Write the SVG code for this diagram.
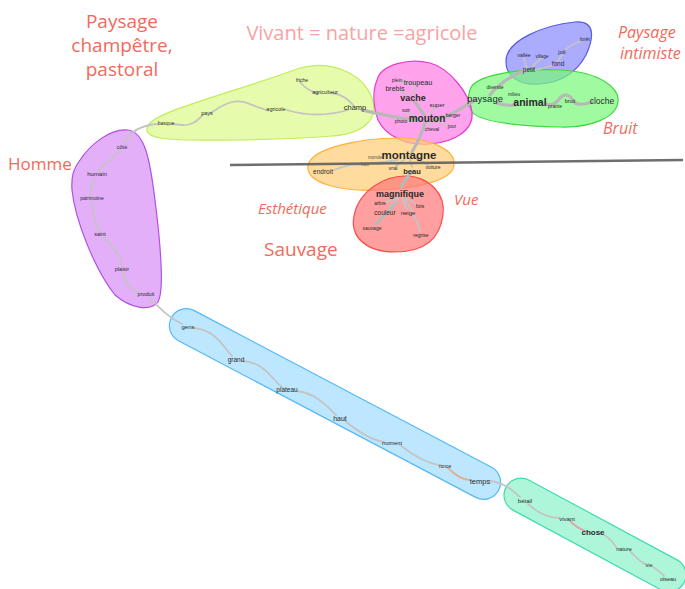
<svg xmlns="http://www.w3.org/2000/svg" width="685" height="589" viewBox="0 0 685 589">
<style>
.blob{stroke-width:1.2;fill-opacity:0.72}
.c{fill:none;stroke:#c4c4c4;stroke-width:1.8;stroke-linecap:round}
.t{fill:none;stroke:#b8b8b8;stroke-width:3.2;stroke-linecap:round}
text.w{font-family:"Liberation Sans",Arial,sans-serif;fill:#2a2a2a;text-anchor:middle}
text.h{font-family:"Open Sans","Liberation Sans",sans-serif;fill:#f26a5a}
text.i{font-style:italic}
</style>
<rect width="685" height="589" fill="#ffffff"/>
<g id="clusters">
<g id="cl-champetre"><path class="blob" fill="#dcfa8a" stroke="#c2ec5c" d="M148,126 C152,112 235,92 300,68 C330,60 362,72 372,98 C380,120 362,134 332,136 C285,140 185,142 160,138 C148,136 145,131 148,126 Z"/></g>
<g id="cl-intimiste"><path class="blob" fill="#8c8cff" stroke="#5a5ae8" d="M506,62 C505,40 545,25 575,22 C597,20 593,40 586,55 C578,70 565,82 540,84 C518,86 506,75 506,62 Z"/></g>
<g id="cl-bruit"><path class="blob" fill="#7cf87c" stroke="#3ed83e" d="M470,90 C473,75 520,68 560,70 C600,72 620,88 618,102 C616,118 590,128 560,127 C520,126 480,122 472,112 C467,105 468,96 470,90 Z"/></g>
<g id="cl-vivant"><path class="blob" fill="#ff80e6" stroke="#e03fcc" d="M377,80 C381,64 410,58 430,63 C450,68 470,95 472,112 C474,130 455,142 430,144 C405,146 385,135 378,120 C373,105 373,90 377,80 Z"/></g>
<g id="cl-esthetique"><path class="blob" fill="#ffcf78" stroke="#ffb040" d="M308,165 C312,148 360,138 400,138 C430,138 456,150 454,165 C453,180 420,188 380,190 C340,192 305,183 308,165 Z"/></g>
<g id="cl-vue"><path class="blob" fill="#ff7a7a" stroke="#ff4a4a" d="M354,216 C359,190 385,176 405,176 C430,176 446,195 443,215 C440,238 425,252 395,252 C365,252 350,236 354,216 Z"/></g>
<g id="cl-homme"><path class="blob" fill="#d890f6" stroke="#b050e0" d="M80,160 C90,145 110,128 128,130 C145,132 150,160 155,200 C160,240 165,290 158,302 C150,312 130,308 115,295 C95,270 75,220 72,190 C71,175 74,168 80,160 Z"/></g>
<g id="cl-temps"><rect class="blob" fill="#a4dcff" stroke="#55b8f8" x="150" y="387" width="370" height="34" rx="17" transform="rotate(27.8 335 404)"/></g>
<g id="cl-nature"><rect class="blob" fill="#8ff2cc" stroke="#42dcae" x="494" y="518" width="202" height="34" rx="17" transform="rotate(28.3 595 535)"/></g>
</g>
<g id="connectors">
<path class="c" d="M300,82 C305,88 310,92 318,93"/>
<path class="c" d="M332,93 C345,95 350,102 354,106"/>
<path class="t" d="M362,110 C380,114 400,119 418,120"/>
<path class="c" d="M348,110 C320,118 300,114 287,110"/>
<path class="c" d="M266,110 C252,106 244,99 232,102 C220,105 214,112 210,113"/>
<path class="c" d="M203,115 C198,120 192,126 182,125 L172,124"/>
<path class="c" d="M158,124 C140,125 130,132 124,143"/>
<path class="c" d="M120,150 C112,160 102,166 98,171"/>
<path class="c" d="M96,178 C90,186 90,192 92,196"/>
<path class="c" d="M92,201 C92,215 96,225 100,231"/>
<path class="c" d="M103,237 C116,250 122,258 122,266"/>
<path class="c" d="M123,272 C125,285 134,292 140,293"/>
<path class="c" d="M150,297 C160,310 170,318 182,324"/>
<path class="c" d="M194,328 C215,330 222,345 232,356"/>
<path class="c" d="M242,361 C265,362 272,380 282,387"/>
<path class="c" d="M297,391 C315,393 326,405 336,415"/>
<path class="c" d="M344,420 C356,430 370,440 384,442"/>
<path class="c" d="M400,445 C412,455 430,465 441,465"/>
<path class="c" style="stroke:#e0b090" d="M448,468 C455,475 462,480 470,480"/>
<path class="c" d="M490,481 C505,483 512,490 520,497"/>
<path class="c" d="M528,504 C540,515 552,518 560,518"/>
<path class="c" style="stroke:#d8a8a8" d="M570,521 C576,527 582,530 586,531"/>
<path class="c" d="M601,533 C612,538 615,547 617,548"/>
<path class="c" d="M630,551 C637,558 641,563 646,564"/>
<path class="c" d="M653,567 C659,571 663,574 664,576"/>
<path class="t" d="M425,116 C420,110 418,105 414,101"/>
<path class="c" d="M413,95 L416,86"/>
<path class="c" d="M408,95 C404,92 400,91 397,90"/>
<path class="c" d="M413,84 L400,81"/>
<path class="c" d="M430,115 C432,110 434,108 436,107"/>
<path class="c" d="M421,119 C415,117 410,114 407,112"/>
<path class="c" d="M418,121 L408,121"/>
<path class="t" d="M434,119 C440,117 446,116 450,116"/>
<path class="c" d="M434,121 C442,124 446,125 449,125"/>
<path class="c" d="M428,122 C430,125 431,127 432,128"/>
<path class="t" d="M425,122 C422,135 416,145 412,152"/>
<path class="t" d="M432,120 C450,118 465,105 476,100"/>
<path class="t" d="M490,95 C495,88 505,80 513,76 C519,72 524,71 527,71"/>
<path class="c" d="M527,68 C525,63 524,60 524,58"/>
<path class="c" d="M531,68 C535,63 540,60 542,58"/>
<path class="c" d="M535,70 C545,68 551,66 554,65"/>
<path class="c" d="M558,61 C560,58 561,56 562,55"/>
<path class="c" d="M565,50 C571,45 578,42 582,41"/>
<path class="t" d="M496,103 C503,105 508,106 515,105"/>
<path class="t" d="M545,104 C550,106 556,104 561,97 C566,93 570,95 574,102 C578,106 586,104 592,102"/>
<path class="c" d="M410,160 C411,164 412,166 412,167"/>
<path class="c" d="M404,160 C400,163 397,165 396,166"/>
<path class="c" d="M416,158 C422,162 426,164 428,165"/>
<path class="c" d="M398,160 C385,162 376,163 370,163"/>
<path class="c" d="M360,165 C350,164 342,167 334,170"/>
<path class="t" d="M412,172 C406,178 403,183 401,187"/>
<path class="c" d="M398,197 C393,200 389,201 386,202"/>
<path class="c" d="M398,199 C393,204 390,207 389,209"/>
<path class="t" d="M396,203 C388,212 380,220 376,224"/>
<path class="c" d="M404,198 C410,200 414,202 416,204"/>
<path class="c" d="M402,198 C404,204 406,207 407,209"/>
<path class="c" d="M405,200 C413,210 418,224 420,231"/>
</g>
<g id="n-friche"><text class="w" x="302" y="82" font-size="5">friche</text></g>
<g id="n-agriculteur"><text class="w" x="325" y="94" font-size="5.5">agriculteur</text></g>
<g id="n-champ"><text class="w" x="355" y="110" font-size="7.5">champ</text></g>
<g id="n-agricole"><text class="w" x="276" y="111" font-size="5.5">agricole</text></g>
<g id="n-pays"><text class="w" x="207" y="115" font-size="5.5">pays</text></g>
<g id="n-basque"><text class="w" x="166" y="125" font-size="5">basque</text></g>
<g id="n-plein"><text class="w" x="397" y="82" font-size="5">plein</text></g>
<g id="n-troupeau"><text class="w" x="418" y="85" font-size="7.2">troupeau</text></g>
<g id="n-brebis"><text class="w" x="395" y="91" font-size="7">brebis</text></g>
<g id="n-vache"><text class="w" x="413" y="101" font-size="9" font-weight="bold">vache</text></g>
<g id="n-super"><text class="w" x="437" y="107" font-size="6">super</text></g>
<g id="n-soir"><text class="w" x="406" y="112" font-size="5">soir</text></g>
<g id="n-mouton"><text class="w" x="427" y="122" font-size="10" font-weight="bold">mouton</text></g>
<g id="n-berger"><text class="w" x="453" y="117" font-size="5">berger</text></g>
<g id="n-photo"><text class="w" x="401" y="123" font-size="5">photo</text></g>
<g id="n-jour"><text class="w" x="452" y="128" font-size="5">jour</text></g>
<g id="n-cheval"><text class="w" x="432" y="131" font-size="5">cheval</text></g>
<g id="n-foret"><text class="w" x="585" y="41" font-size="5">forêt</text></g>
<g id="n-joli"><text class="w" x="562" y="54" font-size="6">joli</text></g>
<g id="n-vallee"><text class="w" x="524" y="57" font-size="5">vallée</text></g>
<g id="n-village"><text class="w" x="542" y="58" font-size="4.6">village</text></g>
<g id="n-fond"><text class="w" x="558" y="66" font-size="6.5">fond</text></g>
<g id="n-petit"><text class="w" x="529" y="72" font-size="6.5">petit</text></g>
<g id="n-diversite"><text class="w" x="495" y="89" font-size="4.6">diversité</text></g>
<g id="n-milieu"><text class="w" x="514" y="96" font-size="4.6">milieu</text></g>
<g id="n-paysage"><text class="w" x="485" y="102" font-size="9.5">paysage</text></g>
<g id="n-animal"><text class="w" x="530" y="106" font-size="10.5" font-weight="bold">animal</text></g>
<g id="n-prairie"><text class="w" x="555" y="108" font-size="5">prairie</text></g>
<g id="n-bruit"><text class="w" x="570" y="103" font-size="5.5">bruit</text></g>
<g id="n-cloche"><text class="w" x="602" y="104" font-size="8.5">cloche</text></g>
<g id="n-monde"><text class="w" x="375" y="159" font-size="4.6" style="fill:#555">monde</text></g>
<g id="n-montagne"><text class="w" x="409" y="159" font-size="11.5" font-weight="bold">montagne</text></g>
<g id="n-bati"><text class="w" x="365" y="166" font-size="5" style="fill:#666">bâti</text></g>
<g id="n-endroit"><text class="w" x="323" y="174" font-size="6.5">endroit</text></g>
<g id="n-vrai"><text class="w" x="393" y="170" font-size="5.5">vrai</text></g>
<g id="n-beau"><text class="w" x="412" y="174" font-size="7.5" font-weight="bold">beau</text></g>
<g id="n-voiture"><text class="w" x="433" y="169" font-size="5">voiture</text></g>
<g id="n-magnifique"><text class="w" x="400" y="197" font-size="9" font-weight="bold">magnifique</text></g>
<g id="n-arbre"><text class="w" x="380" y="205" font-size="5">arbre</text></g>
<g id="n-fois"><text class="w" x="420" y="208" font-size="5.5">fois</text></g>
<g id="n-couleur"><text class="w" x="385" y="215" font-size="6.5">couleur</text></g>
<g id="n-neige"><text class="w" x="408" y="215" font-size="6">neige</text></g>
<g id="n-sauvage"><text class="w" x="372" y="230" font-size="5">sauvage</text></g>
<g id="n-regrise"><text class="w" x="421" y="237" font-size="5">regrise</text></g>
<g id="n-cote"><text class="w" x="122" y="149" font-size="5.5">côté</text></g>
<g id="n-humain"><text class="w" x="97" y="176" font-size="6">humain</text></g>
<g id="n-patrimoine"><text class="w" x="92" y="200" font-size="5">patrimoine</text></g>
<g id="n-saint"><text class="w" x="100" y="236" font-size="5.5">saint</text></g>
<g id="n-plaisir"><text class="w" x="122" y="271" font-size="5.5">plaisir</text></g>
<g id="n-produit"><text class="w" x="146" y="296" font-size="5.5">produit</text></g>
<g id="n-gens"><text class="w" x="188" y="329" font-size="6">gens</text></g>
<g id="n-grand"><text class="w" x="236" y="362" font-size="6.5">grand</text></g>
<g id="n-plateau"><text class="w" x="287" y="392" font-size="6.5">plateau</text></g>
<g id="n-haut"><text class="w" x="340" y="421" font-size="7">haut</text></g>
<g id="n-moment"><text class="w" x="392" y="445" font-size="5.5">moment</text></g>
<g id="n-ronce"><text class="w" x="445" y="468" font-size="5">ronce</text></g>
<g id="n-temps"><text class="w" x="480" y="484" font-size="7.5">temps</text></g>
<g id="n-betail"><text class="w" x="525" y="503" font-size="6">bétail</text></g>
<g id="n-vivant"><text class="w" x="567" y="521" font-size="6">vivant</text></g>
<g id="n-chose"><text class="w" x="593" y="535" font-size="8" font-weight="bold">chose</text></g>
<g id="n-nature"><text class="w" x="624" y="551" font-size="5.5">nature</text></g>
<g id="n-vie"><text class="w" x="649" y="567" font-size="5.5">vie</text></g>
<g id="n-oiseau"><text class="w" x="668" y="581" font-size="5.5">oiseau</text></g>
<line x1="230" y1="165" x2="683" y2="160" stroke="#5e5e5e" stroke-width="2.5" stroke-opacity="0.9"/>
<g id="labels">
<text class="h" x="122" y="28" font-size="19" text-anchor="middle">Paysage</text>
<text class="h" x="122" y="52" font-size="19" text-anchor="middle">champêtre,</text>
<text class="h" x="122" y="76" font-size="19" text-anchor="middle">pastoral</text>
<text class="h" x="362" y="40" font-size="20" text-anchor="middle" style="fill:#f9a3a3">Vivant = nature =agricole</text>
<text class="h i" x="618" y="38" font-size="16">Paysage</text>
<text class="h i" x="620" y="59" font-size="16">intimiste</text>
<text class="h i" x="603" y="134" font-size="16">Bruit</text>
<text class="h" x="8" y="170" font-size="17">Homme</text>
<text class="h i" x="258" y="214" font-size="15">Esthétique</text>
<text class="h i" x="454" y="205" font-size="15">Vue</text>
<text class="h" x="264" y="256" font-size="19">Sauvage</text>
</g>
</svg>
